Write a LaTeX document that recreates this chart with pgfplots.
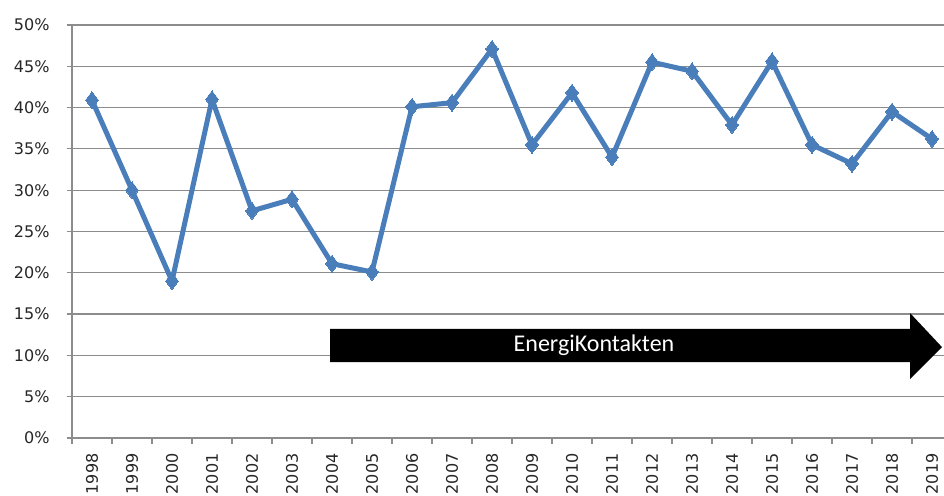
\documentclass[border=0pt]{standalone}
\usepackage{pgfplots}
\pgfplotsset{compat=1.18}
\usepackage{fontspec}
\setmainfont{DejaVu Sans}
\newfontfamily\dejavu{DejaVu Sans}
\newfontfamily\carlito{Carlito}
\definecolor{serie}{HTML}{4A7EBB}
\definecolor{gridc}{HTML}{8C8C8C}
\begin{document}
\begin{tikzpicture}
\begin{axis}[name=ax, scale only axis, width=872pt, height=413pt,
  xmin=-0.5, xmax=21.3, ymin=0, ymax=50,
  axis x line=bottom, axis y line=left,
  axis line style={-, draw=gridc, line width=1.2pt},
  ymajorgrids, grid style={draw=gridc, line width=1.2pt},
  ytick={0,5,...,50},
  yticklabels={0\%,5\%,10\%,15\%,20\%,25\%,30\%,35\%,40\%,45\%,50\%},
  xtick={0,...,21},
  xticklabels={1998,1999,2000,2001,2002,2003,2004,2005,2006,2007,2008,2009,2010,2011,2012,2013,2014,2015,2016,2017,2018,2019},
  minor xtick={-0.5,0.5,...,20.5},
  tick align=outside, major tick length=5pt, minor tick length=6pt,
  major x tick style={draw=none},
  minor x tick style={draw=gridc, line width=1.2pt},
  major y tick style={draw=gridc, line width=1.2pt},
  tick label style={font=\dejavu\fontsize{16}{18}\selectfont, text=black!85},
  x tick label style={rotate=90, anchor=east, xshift=-7pt},
  y tick label style={anchor=east, xshift=-14pt},
  clip=false,
]
\fill[black] (axis cs:5.95,9.2) -- (axis cs:20.45,9.2) -- (axis cs:20.45,7.14) -- (axis cs:21.25,11.0) -- (axis cs:20.45,15.13) -- (axis cs:20.45,13.2) -- (axis cs:5.95,13.2) -- cycle;
\node[white, font=\carlito\fontsize{24}{26}\selectfont] at (axis cs:12.55,11.2) {EnergiKontakten};
\addplot[serie, line width=5pt, line join=round, mark=diamond*, mark size=8.5pt,
  mark options={solid, fill=serie, draw=serie, line width=0pt}] coordinates {
(0,40.9) (1,30.0) (2,19.0) (3,41.0) (4,27.5) (5,28.9) (6,21.1) (7,20.1)
(8,40.1) (9,40.6) (10,47.1) (11,35.5) (12,41.8) (13,34.0) (14,45.5) (15,44.4)
(16,37.9) (17,45.6) (18,35.5) (19,33.2) (20,39.5) (21,36.2)};
\end{axis}
\pgfresetboundingbox
\path ([xshift=-72pt,yshift=-58pt]ax.south west) rectangle ([yshift=25pt]ax.north east);
\end{tikzpicture}
\end{document}
